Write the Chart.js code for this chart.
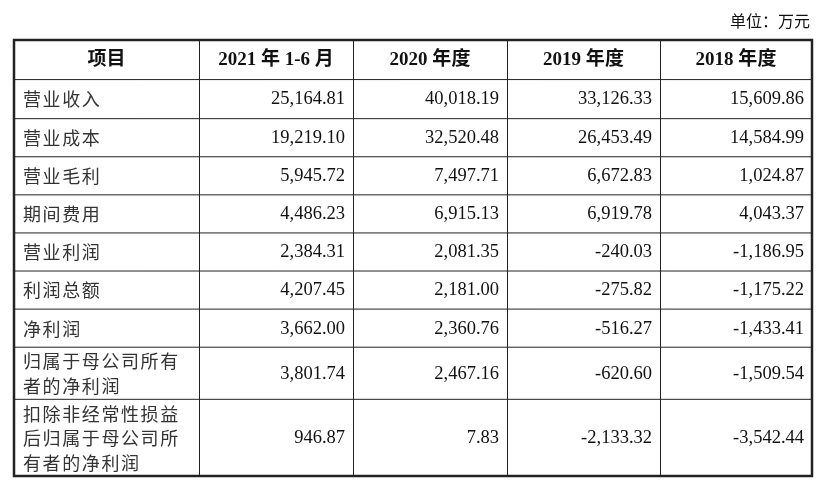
<!DOCTYPE html><html><head><meta charset="utf-8">
<script src="https://cdn.jsdelivr.net/npm/chart.js@4"></script>
<style>html,body{margin:0;padding:0;background:#fff}</style></head><body>
<div style="width:831px;height:487px"><canvas id="c"></canvas></div>
<script>
const headers = ["项目","2021 年 1-6 月","2020 年度","2019 年度","2018 年度"];
const items = ["营业收入","营业成本","营业毛利","期间费用","营业利润","利润总额","净利润","归属于母公司所有\n者的净利润","扣除非经常性损益\n后归属于母公司所\n有者的净利润"];
const v2021H1 = ["25,164.81","19,219.10","5,945.72","4,486.23","2,384.31","4,207.45","3,662.00","3,801.74","946.87"];
const v2020 = ["40,018.19","32,520.48","7,497.71","6,915.13","2,081.35","2,181.00","2,360.76","2,467.16","7.83"];
const v2019 = ["33,126.33","26,453.49","6,672.83","6,919.78","-240.03","-275.82","-516.27","-620.60","-2,133.32"];
const v2018 = ["15,609.86","14,584.99","1,024.87","4,043.37","-1,186.95","-1,175.22","-1,433.41","-1,509.54","-3,542.44"];
const unitLabel = "单位：万元";

const colEdges = [0,185,339,493,646,798];
const rowHeights = [39,39,38,38,38,38,38,38,52,77];
const rowEdges = [0]; rowHeights.forEach(h=>rowEdges.push(rowEdges[rowEdges.length-1]+h));
const cols = [items, v2021H1, v2020, v2019, v2018];
const CJK = '"Noto Sans CJK SC"', SER = '"Liberation Serif"';

const tablePlugin = {id:'table', afterDraw(chart){
  const ctx=chart.ctx, xs=chart.scales.x, ys=chart.scales.y;
  const X=v=>xs.getPixelForValue(v), Y=v=>ys.getPixelForValue(v);
  ctx.save();
  ctx.fillStyle='#111'; ctx.textBaseline='middle';
  ctx.font='16px '+CJK; ctx.textAlign='right';
  ctx.fillText(unitLabel, X(798)-2, 21);
  ctx.strokeStyle='#222'; ctx.lineWidth=1;
  rowEdges.forEach((r,i)=>{ if(i>0&&i<rowEdges.length-1){ctx.beginPath();ctx.moveTo(X(0),Y(r)+0.5);ctx.lineTo(X(798),Y(r)+0.5);ctx.stroke();}});
  colEdges.forEach((c,i)=>{ if(i>0&&i<colEdges.length-1){ctx.beginPath();ctx.moveTo(X(c)+0.5,Y(0));ctx.lineTo(X(c)+0.5,Y(rowEdges[rowEdges.length-1]));ctx.stroke();}});
  ctx.lineWidth=2.5;
  ctx.strokeRect(X(0),Y(0),X(798)-X(0),Y(rowEdges[rowEdges.length-1])-Y(0));
  headers.forEach((h,i)=>{
    ctx.textAlign='center'; ctx.font='bold 19px '+SER+','+CJK;
    ctx.fillText(h,(X(colEdges[i])+X(colEdges[i+1]))/2,(Y(0)+Y(39))/2+1);
  });
  for(let r=0;r<items.length;r++){
    const yc=(Y(rowEdges[r+1])+Y(rowEdges[r+2]))/2+1;
    const lines=items[r].split('\n'); const lh=24.5;
    ctx.textAlign='left'; ctx.font='18px '+CJK; ctx.fillStyle='#333';
    lines.forEach((t,k)=>{ const chars=[...t]; let x=X(0)+9; chars.forEach(ch=>{ctx.fillText(ch,x,yc+(k-(lines.length-1)/2)*lh); x+= 19.6;}); });
    ctx.fillStyle='#111'; ctx.textAlign='right'; ctx.font='18.5px '+SER;
    for(let c=1;c<5;c++) ctx.fillText(cols[c][r], X(colEdges[c+1])-8, yc);
  }
  ctx.restore();
}};

new Chart(document.getElementById('c'),{type:'scatter',data:{datasets:[{data:[]}]},
 options:{responsive:true,maintainAspectRatio:false,animation:false,
  layout:{padding:{left:14,right:19,top:40,bottom:11}},
  plugins:{legend:{display:false},tooltip:{enabled:false}},
  scales:{x:{type:'linear',min:0,max:798,display:false},y:{type:'linear',min:0,max:rowEdges[rowEdges.length-1],reverse:true,display:false}}},
 plugins:[tablePlugin]});
</script></body></html>
